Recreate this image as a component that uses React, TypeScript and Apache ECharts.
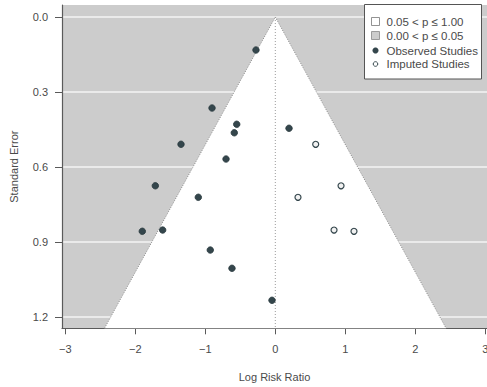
import React, { useEffect, useRef } from "react";
import * as echarts from "echarts";

const xTicks = [-3, -2, -1, 0, 1, 2, 3];
const yTicks = [0, 0.3, 0.6, 0.9, 1.2];
const xRange = [-3.047, 3.024];
const yRange = [-0.048, 1.245];
const zCrit = 1.96;

const observedLogRR = [-0.276, -0.904, -0.551, -0.586, -1.347, -0.704, -1.714, -1.1, -1.609, -1.9, -0.929, -0.619, -0.047, 0.196];
const observedSE = [0.132, 0.364, 0.429, 0.463, 0.509, 0.568, 0.675, 0.721, 0.852, 0.857, 0.932, 1.005, 1.133, 0.445];
const imputedLogRR = [0.577, 0.939, 0.324, 0.839, 1.124];
const imputedSE = [0.509, 0.675, 0.721, 0.852, 0.857];

const legendLabels = ["0.05 < p \u2264 1.00", "0.00 < p \u2264 0.05", "Observed Studies", "Imputed Studies"];

const FONT = "'Liberation Sans', Arial, Helvetica, sans-serif";
const TXT = "#4a4a4a";
const AX = "#5a5a5a";
const DOT = "#34464c";

export default function App() {
  const ref = useRef<HTMLDivElement>(null);
  useEffect(() => {
    if (!ref.current) return;
    const chart = echarts.init(ref.current, undefined, { renderer: "svg" });
    const seMax = yRange[1];
    const rowsY = [21.5, 35.5, 50.5, 64];
    const legendGraphics: any[] = [
      { type: "rect", shape: { x: 364.5, y: 4.5, width: 117, height: 74.5 }, style: { fill: "#ffffff", stroke: "#555555", lineWidth: 1 }, z: 100 },
      { type: "rect", shape: { x: 371.5, y: rowsY[0] - 4, width: 8, height: 8 }, style: { fill: "#ffffff", stroke: "#777777", lineWidth: 0.8 }, z: 101 },
      { type: "rect", shape: { x: 371.5, y: rowsY[1] - 4, width: 8, height: 8 }, style: { fill: "#cccccc", stroke: "#888888", lineWidth: 0.8 }, z: 101 },
      { type: "circle", shape: { cx: 375.5, cy: rowsY[2], r: 2.8 }, style: { fill: DOT, stroke: DOT, lineWidth: 0.5 }, z: 101 },
      { type: "circle", shape: { cx: 375.5, cy: rowsY[3], r: 2.3 }, style: { fill: "#ffffff", stroke: DOT, lineWidth: 1 }, z: 101 },
    ];
    legendLabels.forEach((t, i) => {
      legendGraphics.push({
        type: "text",
        x: 386.5,
        y: rowsY[i],
        style: { text: t, fill: TXT, font: `11.5px ${FONT}`, textVerticalAlign: "middle", textAlign: "left" },
        z: 102,
      });
    });

    chart.setOption({
      animation: false,
      textStyle: { fontFamily: FONT },
      grid: {
        left: 62,
        right: 0,
        top: 5,
        bottom: 58.7,
        show: true,
        backgroundColor: "#cccccc",
        borderWidth: 0,
        containLabel: false,
        outerBoundsMode: "none",
      },
      xAxis: {
        type: "value",
        min: xRange[0],
        max: xRange[1],
        name: "Log Risk Ratio",
        nameLocation: "middle",
        nameGap: 43,
        nameTextStyle: { color: TXT, fontSize: 11, fontFamily: FONT },
        axisLine: { show: true, onZero: false, lineStyle: { color: AX, width: 1.2 } },
        axisTick: { show: true, length: 6, customValues: xTicks, lineStyle: { color: AX } },
        axisLabel: {
          customValues: xTicks,
          margin: 15,
          color: TXT,
          fontSize: 11,
          fontFamily: FONT,
          formatter: (v: number) => (v < 0 ? "\u2212" + Math.abs(v) : String(v)),
        },
        splitLine: { show: false },
      },
      yAxis: {
        type: "value",
        inverse: true,
        min: yRange[0],
        max: yRange[1],
        name: "Standard Error",
        nameLocation: "middle",
        nameRotate: 90,
        nameGap: 43,
        nameTextStyle: { color: TXT, fontSize: 11, fontFamily: FONT },
        axisLine: { show: true, onZero: false, lineStyle: { color: AX, width: 1.2 } },
        axisTick: { show: true, length: 7, customValues: yTicks, lineStyle: { color: AX } },
        axisLabel: {
          customValues: yTicks,
          margin: 14,
          color: TXT,
          fontSize: 11,
          fontFamily: FONT,
          formatter: (v: number) => v.toFixed(1),
        },
        splitLine: { show: true, lineStyle: { color: "#f4f4f4", width: 1.5 } },
      },
      series: [
        {
          type: "custom",
          z: 1,
          silent: true,
          data: [[0, 0]],
          renderItem: (params: any, api: any) => {
            const apex = api.coord([0, 0]);
            const bl = api.coord([-zCrit * seMax, seMax]);
            const br = api.coord([zCrit * seMax, seMax]);
            return {
              type: "group",
              children: [
                { type: "polygon", shape: { points: [apex, bl, br] }, style: { fill: "#ffffff" } },
                { type: "polyline", shape: { points: [bl, apex, br] }, style: { stroke: "#8a8a8a", lineWidth: 1, lineDash: [1, 1.5], fill: null } },
              ],
            };
          },
        },
        {
          type: "line",
          z: 2,
          silent: true,
          symbol: "none",
          data: [[0, 0], [0, seMax]],
          lineStyle: { color: "#9a9a9a", width: 1, type: [1, 2] },
        },
        {
          type: "scatter",
          z: 3,
          symbol: "circle",
          symbolSize: 6.5,
          data: observedLogRR.map((v, i) => [v, observedSE[i]]),
          itemStyle: { color: DOT, borderColor: "#26363b", borderWidth: 0.8, opacity: 1 },
        },
        {
          type: "scatter",
          z: 3,
          symbol: "circle",
          symbolSize: 6,
          data: imputedLogRR.map((v, i) => [v, imputedSE[i]]),
          itemStyle: { color: "#f2f2f2", borderColor: DOT, borderWidth: 1.2, opacity: 1 },
        },
      ],
      graphic: legendGraphics,
    });
    return () => chart.dispose();
  }, []);
  return <div ref={ref} style={{ width: 487, height: 387, position: "absolute", left: 0, top: 0 }} />;
}
